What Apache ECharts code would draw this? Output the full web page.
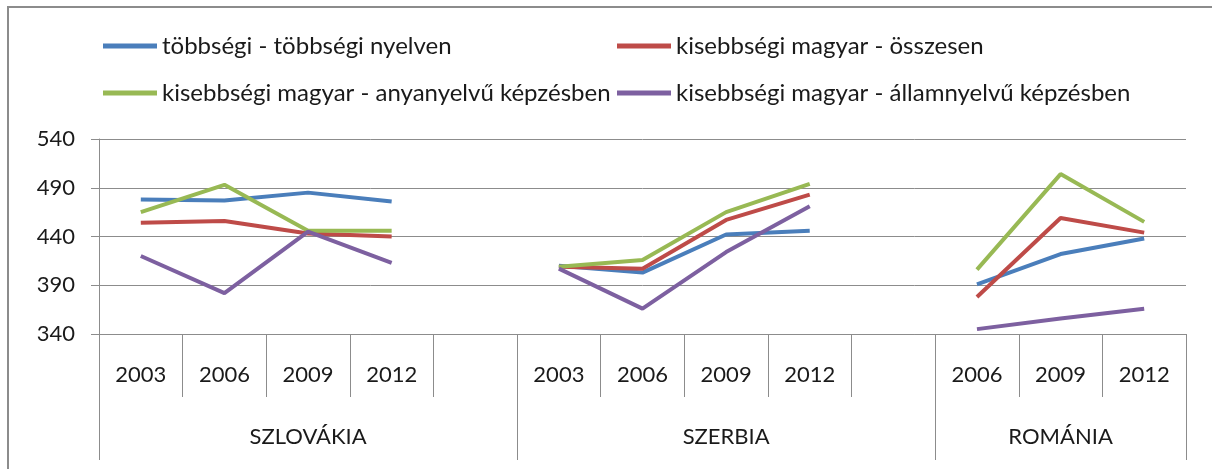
<!DOCTYPE html>
<html>
<head>
<meta charset="utf-8">
<script src="https://cdn.jsdelivr.net/npm/echarts@6/dist/echarts.min.js"></script>
<style>
  html, body { margin: 0; padding: 0; background: #fff; }
  #chart { width: 1212px; height: 469px; }
</style>
</head>
<body>
<div id="chart"></div>
<script>
// years on the first category level, blank cells separate the countries
var years = ["2003", "2006", "2009", "2012", "", "2003", "2006", "2009", "2012", "", "2006", "2009", "2012"];
// country labels sit on the middle cell of each group
var countries = ["", "", "SZLOVÁKIA", "", "", "", "", "SZERBIA", "", "", "", "ROMÁNIA", ""];
var groupStarts = [0, 5, 10];

var yTicks = [340, 390, 440, 490, 540];

var seriesNames = [
  "többségi - többségi nyelven",
  "kisebbségi magyar - összesen",
  "kisebbségi magyar - anyanyelvű képzésben",
  "kisebbségi magyar - államnyelvű képzésben"
];
var tobbsegi = [478, 477, 485, 476, null, 410, 403, 442, 446, null, 391, 422, 438];
var osszesen = [454, 456, 443, 440, null, 409, 407, 457, 483, null, 378, 459, 444];
var anyanyelvu = [465, 493, 446, 446, null, 409, 416, 465, 494, null, 406, 504, 455];
var allamnyelvu = [420, 382, 445, 413, null, 407, 366, 424, 471, null, 345, 356, 366];

var colors = ["#4a7ebb", "#be4b48", "#98b954", "#7d60a0"];
var font = "Lato";
var gray = "#8c8c8c";

function line(name, data, color) {
  return {
    name: name,
    type: "line",
    data: data,
    symbol: "none",
    connectNulls: false,
    lineStyle: { width: 4, color: color },
    itemStyle: { color: color }
  };
}

function legend(left, names) {
  return {
    orient: "vertical",
    left: left,
    top: 32,
    padding: 0,
    icon: "rect",
    itemWidth: 54,
    itemHeight: 5,
    itemGap: 19,
    data: names,
    textStyle: { fontFamily: font, fontSize: 24, color: "#1a1a1a", lineHeight: 28 }
  };
}

var chart = echarts.init(document.getElementById("chart"));
chart.setOption({
  animation: false,
  color: colors,
  graphic: [{
    type: "rect",
    shape: { x: 8, y: 7, width: 1400, height: 700 },
    style: { fill: "none", stroke: gray, lineWidth: 2 },
    silent: true
  }],
  legend: [
    legend(103, [seriesNames[0], seriesNames[2]]),
    legend(617, [seriesNames[1], seriesNames[3]])
  ],
  grid: { left: 99, right: 26, top: 139, bottom: 135 },
  xAxis: [
    {
      type: "category",
      data: years,
      boundaryGap: true,
      axisLine: { show: true, lineStyle: { color: gray, width: 1 } },
      axisTick: { show: true, interval: 0, length: 63, lineStyle: { color: gray } },
      axisLabel: { interval: 0, margin: 28, fontFamily: font, fontSize: 22, color: "#1a1a1a", lineHeight: 26 }
    },
    {
      type: "category",
      data: countries,
      position: "bottom",
      boundaryGap: true,
      axisLine: { show: false },
      axisTick: {
        show: true,
        length: 126,
        interval: function (i) { return groupStarts.indexOf(i) >= 0; },
        lineStyle: { color: gray }
      },
      axisLabel: { interval: 0, margin: 90, fontFamily: font, fontSize: 22, color: "#1a1a1a", lineHeight: 26 }
    }
  ],
  yAxis: {
    type: "value",
    min: yTicks[0],
    max: yTicks[yTicks.length - 1],
    interval: yTicks[1] - yTicks[0],
    axisLine: { show: true, lineStyle: { color: gray } },
    axisTick: { show: true, length: 8, lineStyle: { color: gray } },
    splitLine: { lineStyle: { color: gray, width: 1 } },
    axisLabel: { margin: 24, fontFamily: font, fontSize: 22, color: "#1a1a1a" }
  },
  series: [
    line(seriesNames[0], tobbsegi, colors[0]),
    line(seriesNames[1], osszesen, colors[1]),
    line(seriesNames[2], anyanyelvu, colors[2]),
    line(seriesNames[3], allamnyelvu, colors[3])
  ]
});
</script>
</body>
</html>
